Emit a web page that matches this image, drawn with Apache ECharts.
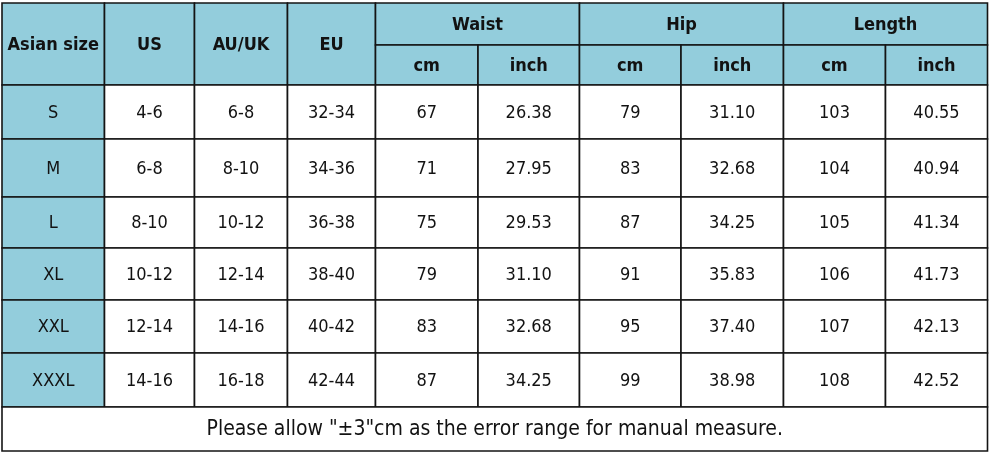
<!DOCTYPE html>
<html>
<head>
<meta charset="utf-8">
<script src="https://cdn.jsdelivr.net/npm/echarts@6/dist/echarts.min.js"></script>
<style>
html,body{margin:0;padding:0;background:#fff;}
#main{width:993px;height:455px;}
</style>
</head>
<body>
<div id="main"></div>
<script>
// ---- data ----
var sizes = ['S', 'M', 'L', 'XL', 'XXL', 'XXXL'];
var usSizes = ['4-6', '6-8', '8-10', '10-12', '12-14', '14-16'];
var auukSizes = ['6-8', '8-10', '10-12', '12-14', '14-16', '16-18'];
var euSizes = ['32-34', '34-36', '36-38', '38-40', '40-42', '42-44'];
var waistCm = [67, 71, 75, 79, 83, 87];
var waistInch = [26.38, 27.95, 29.53, 31.10, 32.68, 34.25];
var hipCm = [79, 83, 87, 91, 95, 99];
var hipInch = [31.10, 32.68, 34.25, 35.83, 37.40, 38.98];
var lengthCm = [103, 104, 105, 106, 107, 108];
var lengthInch = [40.55, 40.94, 41.34, 41.73, 42.13, 42.52];
var topHeaders = ['Asian size', 'US', 'AU/UK', 'EU'];
var groupHeaders = ['Waist', 'Hip', 'Length'];
var unitHeaders = ['cm', 'inch'];
var footNote = 'Please allow "\u00B13"cm as the error range for manual measure.';

// ---- layout (table coordinates) ----
var colEdges = [2, 104.5, 194.5, 287.5, 375.5, 478, 579.5, 681, 783.5, 885.5, 987.5];
var headTop = 3, headMid = 45, headBottom = 85;
var rowEdges = [85, 139, 197, 248, 300, 353, 407];
var footBottom = 451;
var HEAD_BG = '#93CDDC';

// ---- build cells: [c0, c1, y0, y1, text, bg, bold, fontSize] ----
var cells = [];
topHeaders.forEach(function (t, i) {
  cells.push([colEdges[i], colEdges[i + 1], headTop, headBottom, t, HEAD_BG, 1, 18]);
});
groupHeaders.forEach(function (g, gi) {
  var c = 4 + gi * 2;
  cells.push([colEdges[c], colEdges[c + 2], headTop, headMid, g, HEAD_BG, 1, 18]);
  unitHeaders.forEach(function (u, ui) {
    cells.push([colEdges[c + ui], colEdges[c + ui + 1], headMid, headBottom, u, HEAD_BG, 1, 18]);
  });
});
var columns = [
  sizes, usSizes, auukSizes, euSizes,
  waistCm.map(String), waistInch.map(function (v) { return v.toFixed(2); }),
  hipCm.map(String), hipInch.map(function (v) { return v.toFixed(2); }),
  lengthCm.map(String), lengthInch.map(function (v) { return v.toFixed(2); })
];
sizes.forEach(function (s, r) {
  columns.forEach(function (col, c) {
    cells.push([colEdges[c], colEdges[c + 1], rowEdges[r], rowEdges[r + 1], col[r],
      c === 0 ? HEAD_BG : '#ffffff', 0, 18]);
  });
});
cells.push([colEdges[0], colEdges[colEdges.length - 1], rowEdges[rowEdges.length - 1], footBottom,
  footNote, '#ffffff', 0, 21]);

var chart = echarts.init(document.getElementById('main'), null, { renderer: 'canvas' });
chart.setOption({
  animation: false,
  backgroundColor: '#ffffff',
  grid: { left: 0, right: 0, top: 0, bottom: 0 },
  xAxis: { type: 'value', min: 0, max: 993, show: false },
  yAxis: { type: 'value', min: 0, max: 455, inverse: true, show: false },
  series: [{
    type: 'custom',
    coordinateSystem: 'cartesian2d',
    data: cells,
    encode: { x: [0, 1], y: [2, 3] },
    renderItem: function (params, api) {
      var d = cells[params.dataIndex];
      var p0 = api.coord([d[0], d[2]]);
      var p1 = api.coord([d[1], d[3]]);
      return {
        type: 'group',
        children: [{
          type: 'rect',
          shape: { x: p0[0], y: p0[1], width: p1[0] - p0[0], height: p1[1] - p0[1] },
          style: { fill: d[5], stroke: '#141414', lineWidth: 1.6 }
        }, {
          type: 'text',
          x: (p0[0] + p1[0]) / 2,
          y: (p0[1] + p1[1]) / 2 + 1,
          style: {
            text: d[4],
            fill: '#121212',
            font: (d[6] ? 'bold ' : '') + d[7] + 'px "DejaVu Sans Condensed", "DejaVu Sans", sans-serif',
            align: 'center',
            verticalAlign: 'middle'
          }
        }]
      };
    }
  }]
});
</script>
</body>
</html>
